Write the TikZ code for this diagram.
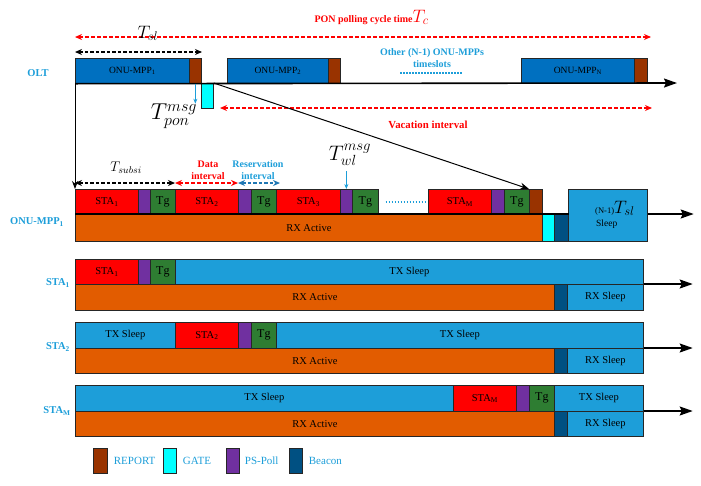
\documentclass[tikz,border=0pt]{standalone}
\usepackage{fix-cm}
\usepackage{fontspec}
\setmainfont{Liberation Serif}
\usetikzlibrary{positioning}
\usetikzlibrary{arrows.meta}

\definecolor{mppblue}{RGB}{0,112,192}
\definecolor{reportbrown}{RGB}{153,51,0}
\definecolor{gatecyan}{RGB}{0,255,255}
\definecolor{pollpurple}{RGB}{112,48,160}
\definecolor{beaconblue}{RGB}{0,80,130}
\definecolor{tgreen}{RGB}{46,125,50}
\definecolor{rxorange}{RGB}{226,92,0}
\definecolor{sleepblue}{RGB}{29,158,217}
\definecolor{labelblue}{RGB}{29,158,217}
\definecolor{resblue}{RGB}{31,119,180}

\tikzset{
  blk/.style={draw=black!85, line width=0.7pt, inner sep=0pt, anchor=north west,
    minimum height=25pt, font=\fontsize{10.5}{12}\selectfont},
  mppblk/.style={blk, fill=mppblue, font=\fontsize{9.5}{11}\selectfont},
  tgblk/.style={blk, fill=tgreen, font=\fontsize{12}{13}\selectfont},
  rowlabel/.style={font=\bfseries\fontsize{10.5}{12}\selectfont, text=labelblue},
  legtext/.style={font=\fontsize{11}{12}\selectfont, text=labelblue, inner sep=1pt},
  axisarrow/.style={line width=1.6pt, -{Stealth[length=13pt,width=9pt,inset=2pt]}},
  dashtip/.style={{Stealth[length=7pt,width=6pt]}-{Stealth[length=7pt,width=6pt]}},
  reddash/.style={red, line width=1.6pt, dash pattern=on 4pt off 2pt, dashtip},
  blackdash/.style={black, line width=1.6pt, dash pattern=on 3.5pt off 2pt, dashtip},
  bluedash/.style={resblue, line width=1.6pt, dash pattern=on 3.5pt off 2pt, dashtip},
  dotblue/.style={labelblue, line width=1.3pt, dash pattern=on 1.5pt off 1.5pt},
  bluearrow/.style={labelblue, line width=0.8pt, -{Stealth[length=5pt,width=4pt]}}
}

\begin{document}
\begin{tikzpicture}[x=1pt, y=-1pt]
\useasboundingbox (0,0) rectangle (701,485);

% OLT
\node[rowlabel] (olt) at (38,73) {OLT};
\node[mppblk, minimum width=114pt] (mpp1) at (75,58) {ONU-MPP\textsubscript{1}};
\node[blk, fill=reportbrown, minimum width=12pt] (rep1) at (189,58) {};
\node[mppblk, minimum width=101pt] (mpp2) at (227,58) {ONU-MPP\textsubscript{2}};
\node[blk, fill=reportbrown, minimum width=12pt] (rep2) at (328,58) {};
\node[mppblk, minimum width=113pt] (mppn) at (521,58) {ONU-MPP\textsubscript{N}};
\node[blk, fill=reportbrown, minimum width=13pt] (repn) at (634,58) {};
\node[blk, fill=gatecyan, minimum width=12pt] (gate) at (201,83) {};
\coordinate (oltend) at (677,83);
\draw[axisarrow] (mpp1.south west) -- (oltend);

\node[align=center, text=labelblue, font=\bfseries\fontsize{10}{12}\selectfont] (other) at (432,58) {Other (N-1) ONU-MPPs\\timeslots};
\coordinate (dotl) at (400,73);
\coordinate (dotr) at (462,73);
\draw[dotblue] (dotl) -- (dotr);

% cycle and slot times
\node[anchor=base west, text=red, font=\bfseries\fontsize{10}{12}\selectfont] (tc) at (311,22) {PON polling cycle time\fontsize{18}{20}\selectfont$T_c$};
\coordinate (tcl) at (75,37);
\coordinate (tcr) at (651,37);
\draw[reddash] (tcl) -- (tcr);
\node[anchor=base west, font=\fontsize{18}{20}\selectfont] (tsl) at (134,38) {$T_{sl}$};
\coordinate (tsll) at (75,52);
\coordinate (tslr) at (202,52);
\draw[blackdash] (tsll) -- (tslr);

\draw[bluearrow] (rep1.south) -- ++(0,20);
\node[inner sep=0pt, font=\fontsize{23}{25}\selectfont] (tpon) at (174,116) {$T^{msg}_{pon}$};
\coordinate (vacl) at (220,108);
\coordinate (vacr) at (652,108);
\draw[reddash] (vacl) -- (vacr);
\node[text=red, font=\bfseries\fontsize{10.8}{12}\selectfont] (vac) at (428,125) {Vacation interval};

% ONU-MPP1
\node[rowlabel] (onu) at (37,222) {ONU-MPP\textsubscript{1}};
\node[blk, fill=red, minimum width=63pt] (m1) at (75,189) {STA\textsubscript{1}};
\node[blk, fill=pollpurple, minimum width=12pt] (mp1) at (138,189) {};
\node[tgblk, minimum width=25pt] (mt1) at (150,189) {Tg};
\node[blk, fill=red, minimum width=63pt] (m2) at (175,189) {STA\textsubscript{2}};
\node[blk, fill=pollpurple, minimum width=13pt] (mp2) at (238,189) {};
\node[tgblk, minimum width=25pt] (mt2) at (251,189) {Tg};
\node[blk, fill=red, minimum width=64pt] (m3) at (276,189) {STA\textsubscript{3}};
\node[blk, fill=pollpurple, minimum width=12pt] (mp3) at (340,189) {};
\node[tgblk, minimum width=26pt] (mt3) at (352,189) {Tg};
\node[blk, fill=red, minimum width=63pt] (mM) at (428,189) {STA\textsubscript{M}};
\node[blk, fill=pollpurple, minimum width=13pt] (mpM) at (491,189) {};
\node[tgblk, minimum width=25pt] (mtM) at (504,189) {Tg};
\node[blk, fill=reportbrown, minimum width=13pt] (mrep) at (529,189) {};
\node[blk, fill=rxorange, minimum width=467pt, minimum height=27pt] (mrx) at (75,214) {RX Active};
\node[blk, fill=gatecyan, minimum width=12pt, minimum height=27pt] (mgate) at (542,214) {};
\node[blk, fill=beaconblue, minimum width=14pt, minimum height=27pt] (mbeac) at (554,214) {};
\node[blk, fill=sleepblue, minimum width=79pt, minimum height=52pt] (msleep) at (568,189) {};
\node[anchor=base west, inner sep=0pt, font=\fontsize{8.5}{10}\selectfont] (msleepn) at (595,213) {(N-1)\fontsize{18}{18}\selectfont$T_{sl}$};
\node[anchor=base west, inner sep=0pt, font=\fontsize{9.5}{10}\selectfont] (msleeptxt) at (596,226) {Sleep};
\draw[line width=1.6pt] (mrx.north west) -- (mrx.north east) -- (mbeac.north east);
\draw[axisarrow] (msleep.east |- mrx.north) -- ++(46,0);
\draw[dotblue, shorten <=7pt, shorten >=3pt] (mt3.east) -- (mM.west);

\draw[line width=1pt, -{Stealth[length=8pt,width=6pt]}] (mpp1.south west) -- (m1.north west);
\draw[line width=1pt, -{Stealth[length=9pt,width=7pt]}] (gate.north east) -- (mrep.north west);

\node[font=\fontsize{14}{16}\selectfont] (tsub) at (126,168) {$T_{subsi}$};
\node[align=center, text=red, font=\bfseries\fontsize{10}{12}\selectfont] (data) at (208,170) {Data\\interval};
\node[align=center, text=labelblue, font=\bfseries\fontsize{10}{12}\selectfont] (resv) at (258,170) {Reservation\\interval};
\coordinate (subl) at (75,183);
\coordinate (subr) at (175,183);
\coordinate (datar) at (238,183);
\coordinate (resr) at (280,183);
\draw[blackdash] (subl) -- (subr);
\draw[reddash] (subr) -- (datar);
\draw[bluedash] (datar) -- (resr);
\node[inner sep=0pt, font=\fontsize{21}{23}\selectfont] (twl) at (350,155) {$T^{msg}_{wl}$};
\draw[bluearrow] (mp3.north) ++(0,-18) -- (mp3.north);

% STA1
\node[rowlabel] (st1) at (58,283) {STA\textsubscript{1}};
\node[blk, fill=red, minimum width=63pt] (a1) at (75,259) {STA\textsubscript{1}};
\node[blk, fill=pollpurple, minimum width=12pt] (ap) at (138,259) {};
\node[tgblk, minimum width=25pt] (at1) at (150,259) {Tg};
\node[blk, fill=sleepblue, minimum width=468pt] (asleep) at (175,259) {TX Sleep};
\node[blk, fill=rxorange, minimum width=479pt, minimum height=26pt] (arx) at (75,284) {RX Active};
\node[blk, fill=beaconblue, minimum width=13pt, minimum height=26pt] (abeac) at (554,284) {};
\node[blk, fill=sleepblue, minimum width=76pt, minimum height=26pt] (arxs) at (567,284) {RX Sleep};
\draw[axisarrow] (arxs.north east) -- ++(49,0);

% STA2
\node[rowlabel] (st2) at (58,347) {STA\textsubscript{2}};
\node[blk, fill=sleepblue, minimum width=100pt, minimum height=26pt] (b0) at (75,322) {TX Sleep};
\node[blk, fill=red, minimum width=63pt, minimum height=26pt] (b2) at (175,322) {STA\textsubscript{2}};
\node[blk, fill=pollpurple, minimum width=13pt, minimum height=26pt] (bp) at (238,322) {};
\node[tgblk, minimum width=25pt, minimum height=26pt] (bt) at (251,322) {Tg};
\node[blk, fill=sleepblue, minimum width=367pt, minimum height=26pt] (bsleep) at (276,322) {TX Sleep};
\node[blk, fill=rxorange, minimum width=479pt] (brx) at (75,348) {RX Active};
\node[blk, fill=beaconblue, minimum width=13pt] (bbeac) at (554,348) {};
\node[blk, fill=sleepblue, minimum width=76pt] (brxs) at (567,348) {RX Sleep};
\draw[axisarrow] (brxs.north east) -- ++(49,0);

% STAM
\node[rowlabel] (stm) at (57,411) {STA\textsubscript{M}};
\node[blk, fill=sleepblue, minimum width=378pt, minimum height=26pt] (c0) at (75,385) {TX Sleep};
\node[blk, fill=red, minimum width=63pt, minimum height=26pt] (cM) at (453,385) {STA\textsubscript{M}};
\node[blk, fill=pollpurple, minimum width=13pt, minimum height=26pt] (cp) at (516,385) {};
\node[tgblk, minimum width=25pt, minimum height=26pt] (ct) at (529,385) {Tg};
\node[blk, fill=sleepblue, minimum width=89pt, minimum height=26pt] (csleep) at (554,385) {TX Sleep};
\node[blk, fill=rxorange, minimum width=479pt] (crx) at (75,411) {RX Active};
\node[blk, fill=beaconblue, minimum width=13pt] (cbeac) at (554,411) {};
\node[blk, fill=sleepblue, minimum width=76pt] (crxs) at (567,411) {RX Sleep};
\draw[axisarrow] (crxs.north east) -- ++(49,0);

% legend
\node[blk, fill=reportbrown, minimum width=14pt] (lrep) at (93,448) {};
\node[legtext, right=5pt of lrep] (lreptxt) {REPORT};
\node[blk, fill=gatecyan, minimum width=13pt] (lgate) at (163,448) {};
\node[legtext, right=5pt of lgate] (lgatetxt) {GATE};
\node[blk, fill=pollpurple, minimum width=13pt] (lpoll) at (226,448) {};
\node[legtext, right=4pt of lpoll] (lpolltxt) {PS-Poll};
\node[blk, fill=beaconblue, minimum width=13pt] (lbeac) at (289,448) {};
\node[legtext, right=5pt of lbeac] (lbeactxt) {Beacon};

\end{tikzpicture}
\end{document}
